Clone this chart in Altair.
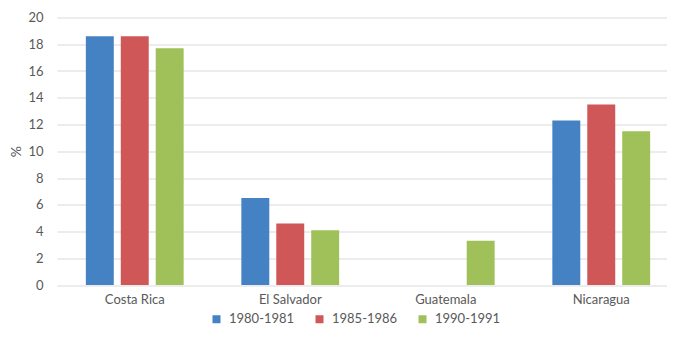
import altair as alt
import pandas as pd

countries = ["Costa Rica", "El Salvador", "Guatemala", "Nicaragua"]
periods = ["1980-1981", "1985-1986", "1990-1991"]
v_1980 = [18.6, 6.5, None, 12.3]
v_1985 = [18.6, 4.6, None, 13.5]
v_1990 = [17.7, 4.1, 3.3, 11.5]
colors = ["#4582C4", "#D05757", "#A0C15A"]
y_ticks = [0, 2, 4, 6, 8, 10, 12, 14, 16, 18, 20]

rows = []
for series, vals in zip(periods, [v_1980, v_1985, v_1990]):
    for c, v in zip(countries, vals):
        if v is not None:
            rows.append({"País": c, "Periodo": series, "Valor": v})
df = pd.DataFrame(rows)

FONT = "Lato"
GREY = "#595959"

chart = alt.Chart(df).mark_bar().encode(
    x=alt.X("País:N", sort=countries,
            scale=alt.Scale(domain=countries, range=[0, 622], paddingInner=0.326, paddingOuter=0.163),
            axis=alt.Axis(title=None, labelAngle=0, ticks=False, labelPadding=8,
                          labelFont=FONT, labelFontSize=13, labelColor=GREY,
                          domain=False, grid=False)),
    xOffset=alt.XOffset("Periodo:N", sort=periods,
                        scale=alt.Scale(domain=periods, paddingInner=0.2, paddingOuter=0.1)),
    y=alt.Y("Valor:Q", scale=alt.Scale(domain=[0, 20], nice=False),
            axis=alt.Axis(title="%", values=y_ticks, ticks=False, domain=False,
                          labelPadding=14, labelFont=FONT, labelFontSize=13, labelColor=GREY,
                          titleFont=FONT, titleFontSize=14, titleFontWeight="normal",
                          titleColor=GREY, titlePadding=4,
                          gridColor="#D9D9D9", gridWidth=1)),
    color=alt.Color("Periodo:N", sort=periods,
                    scale=alt.Scale(domain=periods, range=colors),
                    legend=alt.Legend(title=None, orient="none", direction="horizontal",
                                      legendX=153, legendY=295, symbolType="square",
                                      symbolSize=64, symbolStrokeWidth=0,
                                      labelFont=FONT, labelFontSize=13, labelColor=GREY,
                                      symbolOffset=0, labelOffset=6, columnPadding=18)),
).properties(
    width=610,
    height=267.5,
    autosize=alt.AutoSizeParams(type="none"),
    padding={"left": 49, "top": 9.5, "right": 0, "bottom": 43},
).configure_view(stroke=None)

chart.save("out.html", embed_options={"renderer": "svg", "actions": False})
